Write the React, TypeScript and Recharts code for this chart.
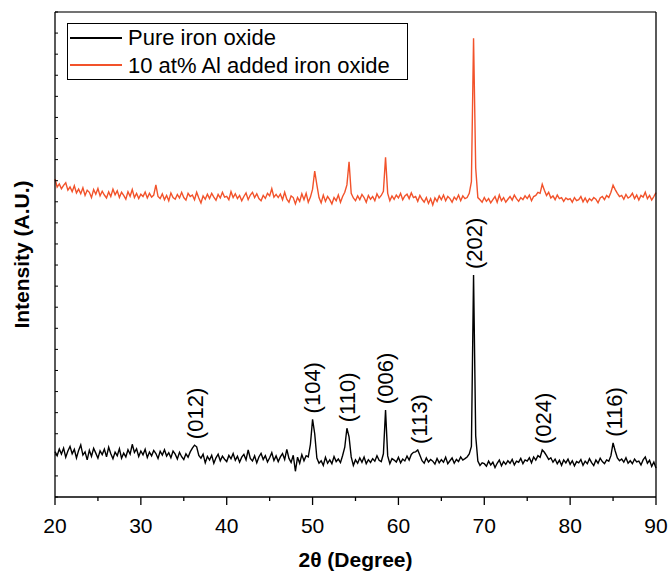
import React from 'react';
import { LineChart, Line, XAxis, YAxis, Legend, ReferenceDot, Label } from 'recharts';

const FONT = '"Liberation Sans", Arial, sans-serif';

// scan grid: 20° to 90° in 0.25° steps
const scanStart = 20;
const scanStep = 0.25;

const seriesNames = ['Pure iron oxide', '10 at% Al added iron oxide'];

// intensities (counts, arbitrary units), one row per degree
const pureIronOxide = [
  215, 196, 228, 204, 232, 189, 218, 240, 205, 226, 185, 221, 247, 199, 214, 176,
  222, 193, 231, 208, 184, 219, 201, 227, 190, 236, 205, 181, 213, 196, 229, 184,
  208, 190, 224, 203, 250, 211, 229, 192, 218, 200, 226, 187, 213, 195, 221, 206,
  183, 217, 199, 224, 194, 210, 186, 218, 203, 180, 212, 191, 178, 205, 189, 214,
  232, 246, 238, 197, 184, 203, 162, 192, 175, 198, 160, 186, 203, 172, 194, 179,
  168, 197, 181, 206, 174, 193, 165, 189, 202, 176, 223, 183, 171, 195, 162, 190,
  207, 178, 196, 166, 186, 210, 173, 195, 168, 190, 206, 178, 226, 183, 164, 198,
  122, 189, 160, 201, 172, 196, 190, 250, 368, 300, 185, 160, 172, 150, 188, 160,
  176, 158, 192, 168, 180, 163, 197, 236, 326, 285, 190, 150, 176, 160, 185, 165,
  190, 158, 177, 164, 182, 170, 196, 174, 168, 205, 412, 195, 158, 182, 175, 166,
  188, 162, 180, 171, 194, 175, 202, 212, 214, 223, 198, 172, 160, 185, 166, 178,
  170, 156, 183, 162, 177, 165, 189, 158, 172, 185, 160, 178, 168, 190, 175, 182,
  190, 204, 240, 1053, 290, 170, 150, 162, 158, 146, 170, 152, 165, 140, 160, 175,
  148, 168, 155, 172, 160, 178, 152, 170, 165, 183, 158, 176, 170, 186, 162, 190,
  175, 196, 188, 223, 212, 196, 178, 186, 165, 180, 158, 174, 150, 176, 162, 180,
  155, 172, 148, 168, 162, 178, 150, 170, 158, 182, 163, 149, 175, 160, 184, 168,
  158, 176, 170, 196, 257, 218, 185, 172, 180, 165, 186, 160, 172, 158, 180, 166,
  170, 152, 176, 190, 160, 174, 145, 166, 137,
];

const alAddedIronOxide = [
  1508, 1470, 1485, 1462, 1478, 1490, 1455, 1470, 1448, 1476, 1442, 1460, 1438, 1466, 1430, 1455,
  1445, 1420, 1458, 1436, 1463, 1428, 1450, 1432, 1418, 1447, 1425, 1460, 1433, 1452, 1420, 1445,
  1430, 1412, 1448, 1426, 1458, 1420, 1440, 1415, 1436, 1425, 1446, 1418, 1440, 1422, 1432, 1480,
  1425, 1415, 1438, 1410, 1430, 1405, 1442, 1420, 1412, 1435, 1418, 1445, 1420, 1408, 1440, 1425,
  1432, 1410, 1445, 1418, 1394, 1428, 1412, 1436, 1415, 1440, 1422, 1407, 1435, 1418, 1445, 1422,
  1426, 1410, 1448, 1420, 1438, 1415, 1430, 1405, 1425, 1442, 1410, 1432, 1445, 1420, 1438, 1415,
  1405, 1430, 1416, 1440, 1428, 1462, 1422, 1435, 1420, 1437, 1410, 1445, 1412, 1398, 1428, 1420,
  1390, 1420, 1402, 1438, 1410, 1440, 1398, 1422, 1460, 1546, 1480, 1420, 1395, 1432, 1402, 1425,
  1410, 1390, 1420, 1405, 1432, 1398, 1425, 1445, 1480, 1590, 1440, 1418, 1405, 1428, 1410, 1435,
  1420, 1398, 1430, 1412, 1425, 1405, 1438, 1418, 1430, 1450, 1611, 1440, 1405, 1428, 1412, 1432,
  1418, 1440, 1410, 1428, 1436, 1415, 1442, 1420, 1425, 1402, 1430, 1412, 1398, 1420, 1392, 1415,
  1385, 1418, 1402, 1428, 1410, 1432, 1405, 1425, 1415, 1398, 1422, 1410, 1432, 1405, 1428, 1415,
  1420, 1440, 1495, 2175, 1560, 1420, 1410, 1398, 1420, 1402, 1415, 1395, 1410, 1425, 1398, 1432,
  1405, 1420, 1398, 1412, 1425, 1408, 1432, 1415, 1402, 1420, 1410, 1428, 1415, 1432, 1405, 1425,
  1430, 1445, 1440, 1483, 1455, 1430, 1445, 1418, 1428, 1410, 1432, 1415, 1420, 1402, 1418, 1410,
  1415, 1398, 1420, 1405, 1410, 1425, 1400, 1418, 1398, 1415, 1405, 1420, 1412, 1395, 1418, 1425,
  1410, 1430, 1420, 1445, 1479, 1458, 1440, 1425, 1430, 1412, 1435, 1418, 1425, 1440, 1415, 1432,
  1408, 1430, 1422, 1445, 1415, 1430, 1408, 1425, 1443,
];

const majorTicks = [20, 30, 40, 50, 60, 70, 80, 90];
const xTicks = [20, 25, 30, 35, 40, 45, 50, 55, 60, 65, 70, 75, 80, 85, 90];
const yTicks = [
  0, 100, 200, 300, 400, 500, 600, 700, 800, 900, 1000, 1100, 1200,
  1300, 1400, 1500, 1600, 1700, 1800, 1900, 2000, 2100, 2200, 2300,
];

const peakLabels = ['(012)', '(104)', '(110)', '(006)', '(113)', '(202)', '(024)', '(116)'];
const peakAngles = [36.3, 50.0, 54.0, 58.4, 62.4, 68.8, 76.8, 85.1];

const data = pureIronOxide.map((v, i) => ({
  angle: scanStart + i * scanStep,
  pure: v,
  al: alAddedIronOxide[i],
}));

// highest black point near each labelled reflection
const peakHeight = (angle: number) =>
  Math.max(...data.filter((d) => Math.abs(d.angle - angle) <= 0.3).map((d) => d.pure));

const XTick = (props: any) => {
  const { x, y, payload } = props;
  const major = majorTicks.includes(payload.value);
  return (
    <g>
      <line x1={x} x2={x} y1={y} y2={y + (major ? 8 : 4)} stroke="#000" strokeWidth={1.3} />
      {major && (
        <text x={x} y={y + 36} textAnchor="middle" fontSize={21} fontFamily={FONT} fill="#000">
          {payload.value}
        </text>
      )}
    </g>
  );
};

// small inward ticks on the intensity axis, no labels
const YTick = (props: any) => {
  const { x, y } = props;
  return <line x1={x} x2={x + 3} y1={y} y2={y} stroke="#000" strokeWidth={1} />;
};

const renderXTitle = (props: any) => {
  const { viewBox } = props;
  return (
    <text
      x={viewBox.x + viewBox.width / 2}
      y={viewBox.y + 70}
      textAnchor="middle"
      fontSize={21}
      fontWeight="bold"
      fontFamily={FONT}
      fill="#000"
    >
      2θ (Degree)
    </text>
  );
};

const renderYTitle = (props: any) => {
  const { viewBox } = props;
  const cx = viewBox.x - 25;
  const cy = viewBox.y + viewBox.height / 2;
  return (
    <text
      x={cx}
      y={cy}
      transform={`rotate(-90 ${cx} ${cy})`}
      textAnchor="middle"
      fontSize={21}
      fontWeight="bold"
      fontFamily={FONT}
      fill="#000"
    >
      Intensity (A.U.)
    </text>
  );
};

const peakText = (text: string) => (props: any) => {
  const { viewBox } = props;
  const x = viewBox.x;
  const y = viewBox.y - 6;
  return (
    <text
      x={x}
      y={y}
      dy="0.36em"
      transform={`rotate(-90 ${x} ${y})`}
      textAnchor="start"
      fontSize={22}
      fontFamily={FONT}
      fill="#000"
    >
      {text}
    </text>
  );
};

const renderLegend = (props: any) => {
  const items = [...(props.payload || [])].sort(
    (a: any, b: any) => seriesNames.indexOf(a.value) - seriesNames.indexOf(b.value),
  );
  return (
    <div
      style={{
        border: '1.5px solid #000',
        background: '#fff',
        width: 341,
        boxSizing: 'border-box',
      }}
    >
      {items.map((item: any) => (
        <div key={item.value} style={{ display: 'flex', alignItems: 'center', height: 27.5 }}>
          <span
            style={{
              display: 'inline-block',
              width: 52,
              height: 0,
              borderTop: `2px solid ${item.color}`,
              marginLeft: 2,
              marginRight: 6,
            }}
          />
          <span style={{ fontSize: 22, fontFamily: FONT, color: '#000', lineHeight: '27px' }}>
            {item.value}
          </span>
        </div>
      ))}
    </div>
  );
};

export default function App() {
  return (
    <div style={{ position: 'absolute', left: 0, top: 0, background: '#fff' }}>
      <LineChart width={668} height={571} data={data} margin={{ top: 11, right: 11, bottom: 0, left: 54 }}>
        <XAxis
          xAxisId="main"
          dataKey="angle"
          type="number"
          domain={[20, 90]}
          ticks={xTicks}
          interval={0}
          height={74}
          tickSize={0}
          tickMargin={0}
          tickLine={false}
          tick={<XTick />}
          axisLine={{ stroke: '#000', strokeWidth: 1.3 }}
        >
          <Label content={renderXTitle} />
        </XAxis>
        <XAxis
          xAxisId="top"
          orientation="top"
          type="number"
          domain={[20, 90]}
          height={1}
          tick={false}
          tickLine={false}
          axisLine={{ stroke: '#444', strokeWidth: 1.3 }}
        />
        <YAxis
          yAxisId="main"
          type="number"
          domain={[0, 2300]}
          ticks={yTicks}
          interval={0}
          width={1}
          tickSize={0}
          tickMargin={0}
          tickLine={false}
          tick={<YTick />}
          axisLine={{ stroke: '#000', strokeWidth: 1.3 }}
        >
          <Label content={renderYTitle} />
        </YAxis>
        <YAxis
          yAxisId="right"
          orientation="right"
          domain={[0, 1]}
          width={1}
          tick={false}
          tickLine={false}
          axisLine={{ stroke: '#000', strokeWidth: 1.3 }}
        />
        <Legend
          layout="horizontal"
          verticalAlign="middle"
          align="center"
          content={renderLegend}
          wrapperStyle={{ left: 67, top: 23, width: 341 }}
        />
        <Line
          xAxisId="main"
          yAxisId="main"
          type="linear"
          dataKey="pure"
          name={seriesNames[0]}
          stroke="#000000"
          strokeWidth={1.4}
          dot={false}
          activeDot={false}
          isAnimationActive={false}
        />
        <Line
          xAxisId="main"
          yAxisId="main"
          type="linear"
          dataKey="al"
          name={seriesNames[1]}
          stroke="#f2522a"
          strokeWidth={1.4}
          dot={false}
          activeDot={false}
          isAnimationActive={false}
        />
        {peakLabels.map((label, i) => (
          <ReferenceDot
            key={label}
            xAxisId="main"
            yAxisId="main"
            x={peakAngles[i]}
            y={peakHeight(peakAngles[i])}
            r={0}
            fill="none"
            stroke="none"
            label={<Label content={peakText(label)} />}
          />
        ))}
      </LineChart>
    </div>
  );
}
